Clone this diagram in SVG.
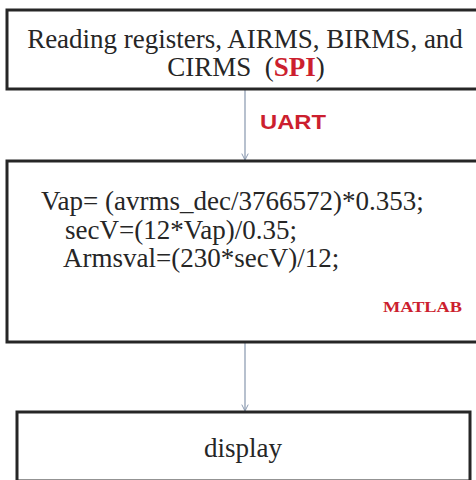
<svg xmlns="http://www.w3.org/2000/svg" width="476" height="480" viewBox="0 0 476 480">
  <style>
    .box { fill: #ffffff; stroke: #262626; stroke-width: 3; }
    .txt { font-family: "Liberation Serif", "Times New Roman", serif; font-size: 27px; fill: #262626; }
    .red { fill: #cc1f2f; }
    .link { stroke: #8797ad; stroke-width: 1.2; fill: none; marker-end: url(#head); }
  </style>
  <defs>
    <marker id="head" viewBox="0 0 10 10" refX="9" refY="5" markerWidth="8" markerHeight="8" markerUnits="userSpaceOnUse" orient="auto">
      <path d="M1,1 L9,5 L1,9" fill="none" stroke="#8797ad" stroke-width="1.2"/>
    </marker>
  </defs>

  <rect width="476" height="480" fill="#ffffff"/>

  <!-- connectors -->
  <g id="connectors">
    <line class="link" x1="245" y1="90" x2="245" y2="160"/>
    <line class="link" x1="245" y1="343" x2="245" y2="411"/>
    <text x="260" y="129" textLength="66" lengthAdjust="spacingAndGlyphs" font-family="Liberation Sans, Arial, sans-serif" font-weight="bold" font-size="21" class="red">UART</text>
  </g>

  <!-- register reading -->
  <g id="node-read">
    <rect class="box" x="7" y="10" width="474" height="79"/>
    <text class="txt" x="245" y="48" text-anchor="middle">Reading registers, AIRMS, BIRMS, and</text>
    <text class="txt" x="246" y="76" text-anchor="middle" xml:space="preserve">CIRMS  (<tspan class="red" font-weight="bold">SPI</tspan>)</text>
  </g>

  <!-- MATLAB conversion -->
  <g id="node-matlab">
    <rect class="box" x="7" y="161" width="474" height="181"/>
    <text class="txt" x="41" y="210">Vap= (avrms_dec/3766572)*0.353;</text>
    <text class="txt" x="65" y="239">secV=(12*Vap)/0.35;</text>
    <text class="txt" x="63" y="267">Armsval=(230*secV)/12;</text>
    <text x="383" y="312" textLength="79" lengthAdjust="spacingAndGlyphs" font-family="Liberation Serif, Times New Roman, serif" font-weight="bold" font-size="15" class="red">MATLAB</text>
  </g>

  <!-- display -->
  <g id="node-display">
    <rect class="box" x="17" y="412" width="453" height="69"/>
    <text class="txt" x="243" y="457" text-anchor="middle" font-size="28">display</text>
  </g>
</svg>
